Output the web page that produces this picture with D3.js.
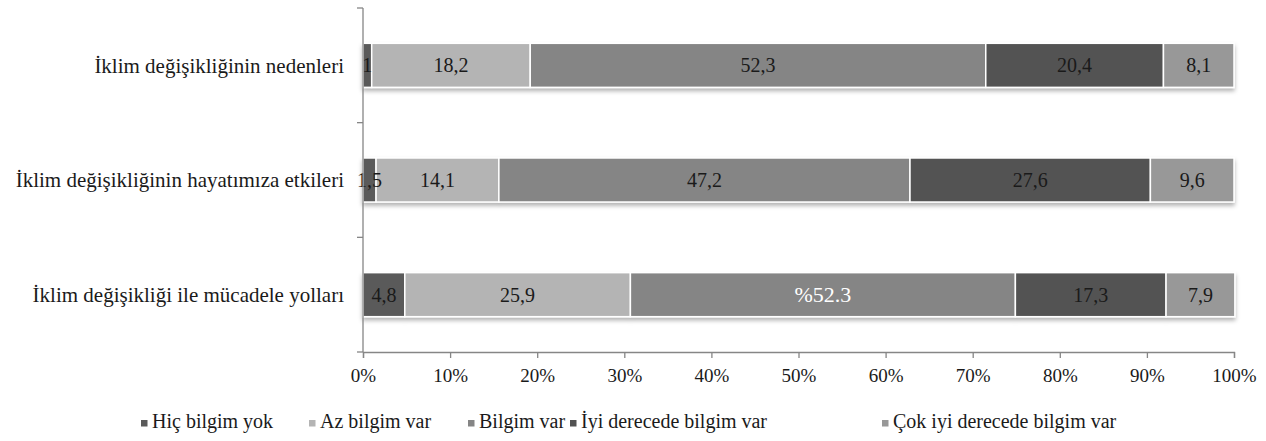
<!DOCTYPE html>
<html>
<head>
<meta charset="utf-8">
<script src="https://cdn.jsdelivr.net/npm/d3@7"></script>
<style>
  body { margin: 0; background: #fff; }
</style>
</head>
<body>
<svg width="1266" height="441"></svg>
<script>
// categories, top to bottom
const categories = [
    "İklim değişikliğinin nedenleri",
    "İklim değişikliğinin hayatımıza etkileri",
    "İklim değişikliği ile mücadele yolları"
];
const seriesNames = ["Hiç bilgim yok", "Az bilgim var", "Bilgim var", "İyi derecede bilgim var", "Çok iyi derecede bilgim var"];
const seriesColors = ["#5a5a5a", "#b4b4b4", "#858585", "#525252", "#989898"];

// values per series (one per category)
const hicYok = [1, 1.5, 4.8];
const azVar = [18.2, 14.1, 25.9];
const bilgimVar = [52.3, 47.2, 44.2];
const iyiVar = [20.4, 27.6, 17.3];
const cokIyiVar = [8.1, 9.6, 7.9];

// labels written in the bars (the original has one odd label)
const labelText = [
    ["1", "18,2", "52,3", "20,4", "8,1"],
    ["1,5", "14,1", "47,2", "27,6", "9,6"],
    ["4,8", "25,9", "%52.3", "17,3", "7,9"]
];
const xTicks = [0, 10, 20, 30, 40, 50, 60, 70, 80, 90, 100];

const FONT = "'Liberation Serif', 'Times New Roman', Times, serif";

let svg = d3.select("svg");

let rows = categories.map(function (c, i) {
    return {cat: c, v: [hicYok[i], azVar[i], bilgimVar[i], iyiVar[i], cokIyiVar[i]]};
});

let x = d3.scaleLinear().domain([0, 100]).range([363, 1234]);
let y = d3.scaleBand().domain(categories).range([8, 352]).paddingInner(0.616).paddingOuter(0.308);

// shadow under the bars
let defs = svg.append("defs");
defs.append("filter").attr("id", "shadow")
    .attr("x", "-5%").attr("y", "-20%").attr("width", "110%").attr("height", "160%")
    .append("feDropShadow")
    .attr("dx", 0).attr("dy", 3).attr("stdDeviation", 2)
    .attr("flood-color", "#000").attr("flood-opacity", 0.3);

// bars
let segs = [];
rows.forEach(function (r, i) {
    let start = 0;
    r.v.forEach(function (val, k) {
        segs.push({cat: r.cat, row: i, k: k, x0: start, x1: start + val, label: labelText[i][k]});
        start += val;
    });
});

let barG = svg.append("g");
rows.forEach(function (r, i) {
    barG.append("g").attr("filter", "url(#shadow)")
        .selectAll("rect")
        .data(segs.filter(function (d) { return d.row === i; }))
        .enter().append("rect")
        .attr("x", function (d) { return x(d.x0); })
        .attr("y", function (d) { return y(d.cat); })
        .attr("width", function (d) { return x(d.x1) - x(d.x0); })
        .attr("height", y.bandwidth())
        .attr("fill", function (d) { return seriesColors[d.k]; })
        .attr("stroke", "#fff")
        .attr("stroke-width", 1.5);
});

// labels
svg.append("g").selectAll("text")
    .data(segs)
    .enter().append("text")
    .attr("x", function (d) { return (x(d.x0) + x(d.x1)) / 2; })
    .attr("y", function (d) { return y(d.cat) + y.bandwidth() / 2; })
    .attr("dy", "0.35em")
    .attr("text-anchor", "middle")
    .style("font-family", FONT)
    .style("font-size", function (d) { return d.label === "%52.3" ? "22px" : "20px"; })
    .attr("fill", function (d) { return d.label === "%52.3" ? "#fff" : "#1a1a1a"; })
    .text(function (d) { return d.label; });

// x axis
let xAxis = svg.append("g")
    .attr("transform", "translate(0,352)")
    .call(d3.axisBottom(x).tickValues(xTicks).tickSize(6).tickPadding(11).tickFormat(function (d) { return d + "%"; }));
xAxis.select(".domain").attr("stroke", "#868686").attr("stroke-width", 1.3);
xAxis.selectAll(".tick line").attr("stroke", "#868686").attr("stroke-width", 1.3);
xAxis.selectAll("text").style("font-family", FONT).style("font-size", "19px").attr("fill", "#1a1a1a");

// y axis: category boundaries as ticks
let yAxis = svg.append("g").attr("transform", "translate(363,0)");
yAxis.append("line").attr("x1", 0).attr("x2", 0).attr("y1", 8).attr("y2", 352)
    .attr("stroke", "#868686").attr("stroke-width", 1.3);
let yEdges = d3.range(categories.length + 1).map(function (i) { return 8 + i * y.step(); });
yAxis.selectAll("line.tk").data(yEdges).enter().append("line").attr("class", "tk")
    .attr("x1", -6).attr("x2", 0)
    .attr("y1", function (d) { return d; }).attr("y2", function (d) { return d; })
    .attr("stroke", "#868686").attr("stroke-width", 1.3);
yAxis.selectAll("text").data(categories).enter().append("text")
    .attr("x", -19)
    .attr("y", function (d) { return y(d) + y.bandwidth() / 2; })
    .attr("dy", "0.35em")
    .attr("text-anchor", "end")
    .style("font-family", FONT)
    .style("font-size", "21px")
    .attr("fill", "#1a1a1a")
    .text(function (d) { return d; });

// legend
const legendX = [141, 309, 468, 570, 882];
let leg = svg.append("g").selectAll("g").data(seriesNames).enter().append("g")
    .attr("transform", function (d, i) { return "translate(" + legendX[i] + ",428)"; });
leg.append("rect").attr("x", 0).attr("y", -8).attr("width", 6.5).attr("height", 6.5)
    .attr("fill", function (d, i) { return seriesColors[i]; });
leg.append("text").attr("x", 11).attr("y", 0)
    .style("font-family", FONT)
    .style("font-size", "20px").attr("fill", "#1a1a1a")
    .text(function (d) { return d; });
</script>
</body>
</html>
